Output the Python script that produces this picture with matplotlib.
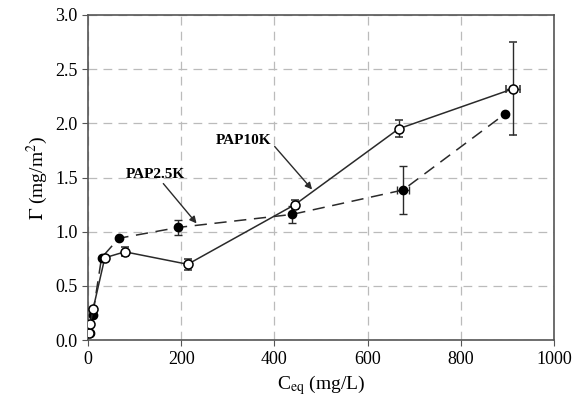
import matplotlib
matplotlib.use("Agg")
import matplotlib.pyplot as plt

# PAP10K (open circles, solid line)
x10 = [3, 5, 11, 36, 79, 214, 444, 667, 913]
y10 = [0.07, 0.15, 0.29, 0.76, 0.815, 0.70, 1.25, 1.95, 2.32]
yerr10 = [0, 0, 0, 0, 0.04, 0.05, 0.04, 0.08, 0.43]
xerr10 = [0, 0, 0, 0, 0, 0, 0, 0, 15]

# PAP2.5K (filled circles, dashed line)
x25 = [4, 10, 29, 66, 194, 438, 676, 896]
y25 = [0.07, 0.23, 0.76, 0.94, 1.04, 1.16, 1.385, 2.09]
yerr25 = [0, 0, 0, 0, 0.07, 0.08, 0.22, 0]
xerr25 = [0, 0, 0, 0, 0, 0, 12, 0]

plt.rcParams['font.family'] = ['Liberation Serif', 'DejaVu Serif']
plt.rcParams['mathtext.fontset'] = 'stix'

fig = plt.figure(figsize=(5.83, 4.04), dpi=100)
ax = fig.add_axes([0.151, 0.158, 0.799, 0.805])

lc = '#2a2a2a'
ax.errorbar(x25, y25, yerr=yerr25, xerr=xerr25, fmt='o', ls=(0, (8, 5)), color=lc,
            mfc='black', mec='black', ms=6, lw=1.1, capsize=3, elinewidth=1, zorder=3)
ax.errorbar(x10, y10, yerr=yerr10, xerr=xerr10, fmt='o', ls='-', color=lc,
            mfc='white', mec='black', ms=6.5, mew=1.1, lw=1.1, capsize=3, elinewidth=1, zorder=4)

ax.annotate('PAP2.5K', xy=(233, 1.077), xytext=(145, 1.47), fontsize=11, fontweight='bold',
            ha='center', va='bottom',
            arrowprops=dict(arrowstyle='-|>', color=lc, lw=1, mutation_scale=10, shrinkA=0, shrinkB=0))
ax.annotate('PAP10K', xy=(481, 1.39), xytext=(335, 1.78), fontsize=11, fontweight='bold',
            ha='center', va='bottom',
            arrowprops=dict(arrowstyle='-|>', color=lc, lw=1, mutation_scale=10, shrinkA=0, shrinkB=0,
                            relpos=(1.0, 0.3)))

ax.set_xlim(0, 1000)
ax.set_ylim(0, 3.0)
ax.set_xticks([0, 200, 400, 600, 800, 1000])
ax.set_yticks([0.0, 0.5, 1.0, 1.5, 2.0, 2.5, 3.0])
ax.set_yticklabels(['0.0', '0.5', '1.0', '1.5', '2.0', '2.5', '3.0'])
ax.tick_params(labelsize=13, direction='out', length=4, color='#555555')
ax.grid(True, ls=(0, (7, 5)), color='#bbbbbb', lw=0.9)
for s in ax.spines.values():
    s.set_color('#555555')
    s.set_linewidth(1.2)

ax.set_xlabel(r'C$_{\mathrm{eq}}$ (mg/L)', fontsize=14)
ax.set_ylabel(r'$\Gamma$ (mg/m$^2$)', fontsize=14)

fig.savefig('out.png', dpi=100)
